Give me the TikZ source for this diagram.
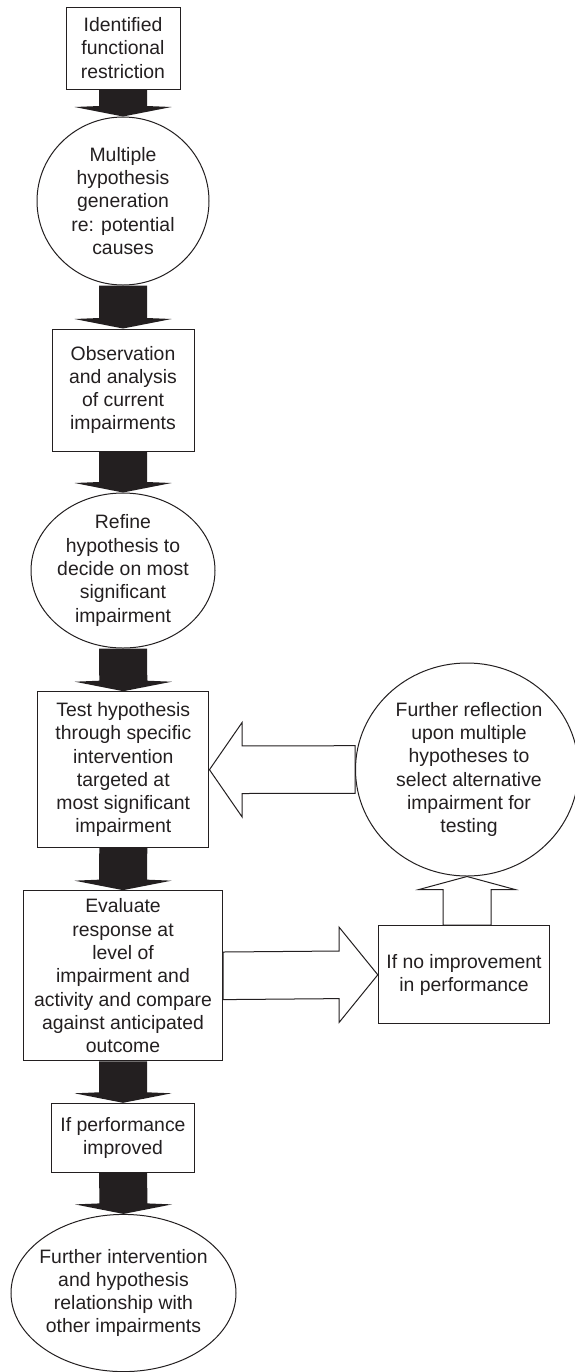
\documentclass[tikz,border=0pt]{standalone}
\usepackage{fontspec}
\setmainfont{Liberation Sans}
\usetikzlibrary{shapes.geometric,calc}
\definecolor{ink}{HTML}{231F20}
\newcommand\blackarrow[2]{%
  \fill[ink] ($(#1.south)+(-24,0)$) -- ($(#2.north)+(-24,-10.5)$) -- ($(#2.north)+(-48.5,-9.5)$)
    -- (#2.north) -- ($(#2.north)+(48.5,-9.5)$) -- ($(#2.north)+(24,-10.5)$) -- ($(#1.south)+(24,0)$) -- cycle;}
\begin{document}
\begin{tikzpicture}[x=0.5pt,y=-0.5pt,
  box/.style={draw=ink, line width=0.5pt, rectangle, inner sep=0pt},
  oval/.style={draw=ink, line width=0.5pt, ellipse, inner sep=0pt},
  txt/.style={text=ink, align=center, inner sep=0pt, font=\fontsize{9.7}{11.65}\selectfont},
  hollow/.style={draw=ink, line width=0.5pt, line join=miter}]
\useasboundingbox[fill=white] (0,0) rectangle (574,1372);

% shapes
\node[box, minimum width=57pt, minimum height=41pt] (b1) at (123,48) {};
\node[oval, minimum width=86pt, minimum height=84pt] (c2) at (123,201) {};
\node[box, minimum width=71pt, minimum height=61pt] (b3) at (123,390) {};
\node[oval, minimum width=92pt, minimum height=77.5pt] (e4) at (123,570.5) {};
\node[box, minimum width=85.65pt, minimum height=78pt] (b5) at (123.3,769.7) {};
\node[box, minimum width=99.7pt, minimum height=85.15pt] (b6) at (123,975.8) {};
\node[box, minimum width=71.3pt, minimum height=34.5pt] (b9) at (123,1137.8) {};
\node[oval, minimum width=112.5pt, minimum height=78.6pt] (e10) at (123.5,1293) {};
\node[oval, minimum width=111.5pt, minimum height=106.5pt] (c7) at (467,769.5) {};
\node[box, minimum width=85.7pt, minimum height=49.15pt] (b8) at (464,974.8) {};

% texts
\node[txt] (t1) at (b1) {Identified\\functional\\restriction};
\node[txt] (t2) at (c2) {Multiple\\hypothesis\\generation\\re: potential\\causes};
\node[txt] (t3) at (b3) {Observation\\and analysis\\of current\\impairments};
\node[txt] (t4) at (e4) {Refine\\hypothesis to\\decide on most\\significant\\impairment};
\node[txt] (t5) at (b5) {Test hypothesis\\through specific\\intervention\\targeted at\\most significant\\impairment};
\node[txt] (t6) at (b6) {Evaluate\\response at\\level of\\impairment and\\activity and compare\\against anticipated\\outcome};
\node[txt] (t9) at (b9) {If performance\\improved};
\node[txt] (t10) at (e10) {Further intervention\\and hypothesis\\relationship with\\other impairments};
\node[txt] (t7) at ($(c7)+(2,0)$) {Further reflection\\upon multiple\\hypotheses to\\select alternative\\impairment for\\testing};
\node[txt] (t8) at (b8) {If no improvement\\in performance};

% solid arrows
\blackarrow{b1}{c2}
\blackarrow{c2}{b3}
\blackarrow{b3}{e4}
\blackarrow{e4}{b5}
\blackarrow{b5}{b6}
\blackarrow{b6}{b9}
\blackarrow{b9}{e10}

% hollow arrows
\draw[hollow] (b5.east) -- ($(b5.east)+(32.7,-47.3)$) -- ($(b5.east)+(32.7,-23.8)$)
  -- ($(c7.west)+(0,-23.8)$) -- ($(c7.west)+(0,23.8)$) -- ($(b5.east)+(32.7,23.8)$)
  -- ($(b5.east)+(32.7,47.3)$) -- cycle;
\draw[hollow] ($(b6.east)+(0,-23.8)$) -- ($(b8.west)+(-38.6,-23.8)$) -- ($(b8.west)+(-38.6,-47.5)$)
  -- (b8.west) -- ($(b8.west)+(-38.6,47.5)$) -- ($(b8.west)+(-38.6,23.8)$)
  -- ($(b6.east)+(0,23.8)$) -- cycle;
\draw[hollow] (c7.south) -- ($(c7.south)+(48,13)$) -- ($(c7.south)+(24,13)$)
  -- ($(c7.south |- b8.north)+(24,0)$) -- ($(c7.south |- b8.north)+(-24,0)$)
  -- ($(c7.south)+(-24,13)$) -- ($(c7.south)+(-48,13)$) -- cycle;
\end{tikzpicture}
\end{document}
